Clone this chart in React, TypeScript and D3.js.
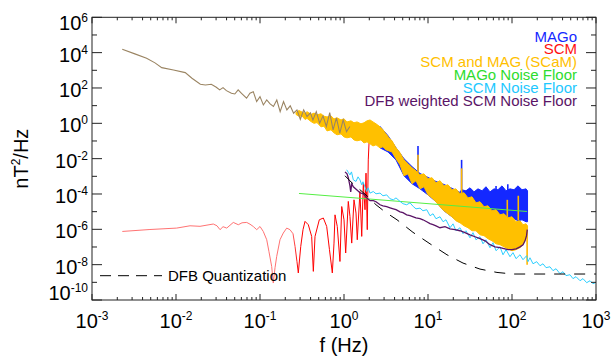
import React from "react";
import * as d3 from "d3";

// Every value below is in decades: [log10 f (Hz), log10 PSD (nT^2/Hz)]
// bands are [log10 f, log10 upper, log10 lower]

const xDecades = [-3, -2, -1, 0, 1, 2, 3];
const yDecades = [6, 4, 2, 0, -2, -4, -6, -8, -10];

const legendLabels = ["MAGo", "SCM", "SCM and MAG (SCaM)", "MAGo Noise Floor", "SCM Noise Floor", "DFB weighted SCM Noise Floor"];
const legendColors = ["#1428ff", "#ff1010", "#ffc000", "#2edc2e", "#1ec8ff", "#5a1466"];

// low frequency part, where MAGo and SCaM overlap
const overlapLine = [
  [-2.64, 4.19], [-2.49, 3.93], [-2.35, 3.68], [-2.25, 3.42], [-2.17, 3.15], [-2.03, 3.02], [-1.89, 2.87],
  [-1.81, 2.55], [-1.71, 2.21], [-1.65, 2.17], [-1.58, 2.21], [-1.52, 2.04], [-1.48, 1.89], [-1.44, 2.02],
  [-1.40, 1.85], [-1.34, 1.70], [-1.30, 1.66], [-1.26, 1.89], [-1.22, 1.70], [-1.16, 1.42], [-1.12, 1.70],
  [-1.08, 1.79], [-1.04, 1.23], [-1.00, 1.51], [-0.96, 1.04], [-0.92, 1.32], [-0.88, 1.10], [-0.84, 0.95],
  [-0.80, 1.32], [-0.76, 0.66], [-0.72, 1.23], [-0.68, 0.76], [-0.64, 0.99], [-0.60, 0.57], [-0.56, 0.76],
  [-0.52, 0.23], [-0.48, 0.76], [-0.44, 0.38], [-0.40, 0.59], [-0.37, 0.19], [-0.33, 0.66], [-0.29, 0.01],
  [-0.25, 0.42], [-0.21, -0.18], [-0.17, 0.61], [-0.13, -0.37], [-0.09, 0.31], [-0.05, -0.56], [-0.01, 0.19],
  [0.03, -0.47], [0.07, -0.18],
];

const scamBand = [
  [-0.571, 0.62, 0.50], [-0.536, 0.72, 0.40], [-0.500, 0.64, 0.42], [-0.464, 0.56, 0.22], [-0.440, 0.66, 0.28],
  [-0.393, 0.50, 0.10], [-0.357, 0.58, 0.00], [-0.321, 0.48, 0.04], [-0.274, 0.54, -0.20], [-0.238, 0.40, -0.16],
  [-0.202, 0.36, -0.43], [-0.155, 0.42, -0.37], [-0.119, 0.25, -0.54], [-0.083, 0.31, -0.65], [-0.036, 0.19, -0.60],
  [0.000, 0.25, -0.77], [0.036, 0.08, -0.82], [0.083, 0.14, -0.77], [0.119, 0.03, -0.94], [0.155, 0.08, -0.99],
  [0.202, -0.03, -0.94], [0.238, 0.03, -1.11], [0.274, 0.14, -1.05], [0.310, 0.19, -1.16], [0.345, 0.08, -1.28],
  [0.381, -0.03, -1.22], [0.429, -0.20, -1.39], [0.464, -0.37, -1.33], [0.500, -0.60, -1.50], [0.536, -0.82, -1.56],
  [0.571, -0.99, -1.62], [0.619, -1.39, -2.01], [0.667, -1.67, -2.35], [0.714, -2.07, -2.97],
  [0.762, -2.29, -2.86], [0.810, -2.52, -3.42], [0.857, -2.69, -3.25], [0.905, -2.92, -3.71], [0.952, -2.86, -3.59],
  [1.000, -3.14, -4.05], [1.048, -3.08, -4.22], [1.095, -3.37, -4.44], [1.143, -3.25, -4.72], [1.190, -3.54, -4.95],
  [1.238, -3.48, -5.12], [1.286, -3.76, -5.29], [1.333, -3.71, -5.52], [1.381, -3.99, -5.63], [1.429, -3.93, -5.80],
  [1.476, -4.22, -5.91], [1.524, -4.16, -6.08], [1.571, -4.50, -6.08], [1.619, -4.44, -6.31], [1.667, -4.72, -6.36],
  [1.714, -4.67, -6.53], [1.762, -4.95, -6.65], [1.810, -4.89, -6.82], [1.857, -5.18, -6.87], [1.905, -5.12, -6.99],
  [1.952, -5.35, -7.10], [2.000, -5.29, -7.21], [2.048, -5.57, -7.15], [2.095, -5.52, -7.04], [2.131, -5.74, -6.87],
  [2.167, -5.69, -6.48], [2.185, -5.80, -6.02],
];

const magoBand = [
  [0.429, -0.18, -1.39], [0.524, -0.70, -1.62], [0.619, -1.38, -2.07], [0.714, -2.00, -2.97], [0.810, -2.45, -3.42],
  [0.905, -2.84, -3.71], [1.000, -3.06, -4.05], [1.095, -3.29, -4.44], [1.190, -3.46, -4.95], [1.286, -3.68, -5.29],
  [1.381, -3.91, -5.63], [1.400, -3.76, -4.72], [1.452, -3.82, -4.84], [1.500, -3.65, -4.95], [1.548, -3.88, -4.89],
  [1.595, -3.71, -5.06], [1.643, -3.82, -5.01], [1.690, -3.59, -5.12], [1.738, -3.88, -5.18], [1.786, -3.71, -5.06],
  [1.833, -3.76, -5.29], [1.881, -3.54, -5.23], [1.929, -3.82, -5.40], [1.976, -3.71, -5.51], [2.024, -3.76, -5.40],
  [2.071, -3.54, -5.51], [2.119, -3.76, -5.46], [2.167, -3.71, -5.57], [2.185, -3.82, -5.57],
];

// narrow lines: [log10 f, from, to]
const magoSpikes = [[0.881, -2.8, -1.28], [1.40, -3.9, -2.07], [1.81, -3.8, -3.55], [1.95, -3.8, -3.45]];
const scamSpikes = [[0.881, -2.8, -1.78], [1.40, -4.0, -2.55], [1.944, -5.3, -4.33], [2.075, -5.5, -4.1], [2.18, -6.0, -8.0]];

const scmLine = [
  [-2.639, -6.12], [-2.310, -6.01], [-1.992, -5.93], [-1.833, -5.80], [-1.714, -5.83], [-1.556, -5.70], [-1.512, -5.80],
  [-1.476, -6.02], [-1.440, -5.85], [-1.396, -5.93], [-1.318, -5.61], [-1.258, -5.74], [-1.214, -5.63], [-1.158, -5.61],
  [-1.119, -5.71], [-1.080, -5.84], [-1.039, -6.02], [-1.000, -5.84], [-0.961, -6.12], [-0.920, -6.59], [-0.893, -7.27],
  [-0.861, -8.10], [-0.842, -9.04], [-0.821, -8.17], [-0.801, -7.53], [-0.762, -6.59], [-0.723, -6.21], [-0.682, -5.93],
  [-0.643, -6.02], [-0.607, -6.25], [-0.583, -6.97], [-0.560, -7.83], [-0.544, -8.47], [-0.515, -6.97], [-0.488, -6.02],
  [-0.464, -5.55], [-0.425, -5.74], [-0.385, -6.40], [-0.365, -8.38], [-0.345, -6.40], [-0.294, -5.46], [-0.246, -5.36],
  [-0.206, -5.84], [-0.173, -7.15], [-0.139, -8.47], [-0.119, -6.78], [-0.107, -5.18], [-0.080, -5.84], [-0.048, -7.82],
  [-0.027, -4.71], [0.000, -5.46], [0.020, -7.34], [0.051, -4.42], [0.071, -5.27], [0.092, -6.78], [0.119, -4.33],
  [0.143, -5.08], [0.158, -6.59], [0.190, -3.86], [0.211, -6.40], [0.230, -3.38], [0.250, -4.89], [0.262, -2.82],
  [0.277, -6.02], [0.289, -2.07], [0.298, -1.11], [0.310, 0.01],
];

const magoNoise = [[-0.536, -3.97], [2.179, -4.99]];

const scmNoise = [
  [0.032, -2.63], [0.054, -2.80], [0.071, -2.92], [0.089, -2.75], [0.111, -3.20], [0.143, -3.29], [0.167, -3.03],
  [0.190, -3.20], [0.211, -3.48], [0.226, -3.31], [0.270, -3.86], [0.286, -3.65], [0.310, -3.95], [0.349, -3.86],
  [0.381, -3.99], [0.429, -3.95], [0.464, -4.10], [0.508, -4.05], [0.548, -4.27], [0.587, -4.33], [0.619, -4.22],
  [0.667, -4.42], [0.702, -4.55], [0.746, -4.61], [0.786, -4.50], [0.825, -4.71], [0.857, -4.84], [0.905, -4.80],
  [0.940, -4.95], [0.985, -4.89], [1.024, -5.23], [1.060, -5.12], [1.095, -5.40], [1.143, -5.29], [1.179, -5.57],
  [1.214, -5.46], [1.262, -5.91], [1.298, -5.69], [1.333, -6.08], [1.381, -5.91], [1.417, -6.25], [1.452, -6.08],
  [1.500, -6.48], [1.536, -6.19], [1.571, -6.59], [1.619, -6.42], [1.655, -6.82], [1.690, -6.59], [1.738, -7.04],
  [1.774, -6.76], [1.810, -7.21], [1.857, -6.99], [1.893, -7.44], [1.929, -7.15], [1.976, -7.55], [2.012, -7.32],
  [2.048, -7.66], [2.095, -7.44], [2.131, -7.72], [2.175, -7.49], [2.190, -7.83], [2.214, -7.61], [2.250, -7.95],
  [2.294, -7.83], [2.333, -8.06], [2.369, -7.95], [2.405, -8.17], [2.452, -8.12], [2.488, -8.34], [2.524, -8.23],
  [2.571, -8.51], [2.607, -8.40], [2.643, -8.62], [2.690, -8.57], [2.726, -8.79], [2.762, -8.68], [2.810, -8.91],
  [2.845, -8.79], [2.889, -9.02], [2.929, -8.91], [2.964, -9.08], [3.000, -9.00],
];

const dfbNoise = [
  [0.012, -2.75], [0.036, -2.86], [0.051, -3.08], [0.071, -3.54], [0.080, -3.88], [0.092, -3.42], [0.111, -3.59],
  [0.151, -3.76], [0.190, -3.93], [0.230, -3.99], [0.270, -4.22], [0.310, -4.38], [0.349, -4.38], [0.381, -4.44],
  [0.429, -4.61], [0.464, -4.67], [0.508, -4.72], [0.548, -4.78], [0.587, -4.84], [0.619, -4.89], [0.667, -5.01],
  [0.702, -5.06], [0.746, -5.18], [0.786, -5.23], [0.825, -5.29], [0.857, -5.35], [0.905, -5.40], [0.940, -5.46],
  [0.985, -5.57], [1.024, -5.68], [1.060, -5.74], [1.095, -5.80], [1.143, -5.91], [1.202, -5.85], [1.262, -5.97],
  [1.321, -6.02], [1.381, -6.08], [1.440, -6.19], [1.500, -6.31], [1.560, -6.42], [1.619, -6.53], [1.679, -6.65],
  [1.738, -6.87], [1.798, -6.99], [1.857, -7.04], [1.917, -7.10], [1.952, -7.15], [2.000, -7.15], [2.048, -7.10],
  [2.095, -6.99], [2.131, -6.87], [2.155, -6.65], [2.173, -6.36], [2.182, -6.02],
];

const dfbQuant = [
  [0.012, -2.97], [0.095, -3.37], [0.190, -3.76], [0.286, -4.16], [0.381, -4.61], [0.488, -5.01], [0.631, -5.46],
  [0.821, -6.17], [1.024, -6.82], [1.226, -7.44], [1.417, -7.91], [1.619, -8.25], [1.821, -8.44], [2.012, -8.53],
  [3.000, -8.53],
];

const W = 611;
const H = 356;
const font = "'Liberation Sans', Arial, Helvetica, sans-serif";

const x = d3.scaleLog().domain([1e-3, 1e3]).range([92, 596]);
const y = d3.scaleLog().domain([1e-10, 1e6]).range([300, 17.3]);
const fx = (d: number) => x(Math.pow(10, d));
const fy = (d: number) => y(Math.pow(10, d));

const line = d3.line<number[]>().x(d => fx(d[0])).y(d => fy(d[1]));
const band = d3.area<number[]>().x(d => fx(d[0])).y0(d => fy(d[2])).y1(d => fy(d[1]));

export default function App() {
  const [x0, x1] = x.range();
  const [yb, yt] = y.range();

  const xMinor = x.ticks().filter(v => Math.abs(Math.log10(v) - Math.round(Math.log10(v))) > 1e-6);
  const yMinor = d3.range(-9, 6, 2);

  return (
    <svg width={W} height={H} style={{ position: "absolute", left: 0, top: 0, background: "#fff" }} fontFamily={font}>
      <defs>
        <linearGradient id="scmGrad" gradientUnits="userSpaceOnUse" x1={x0} x2={x1} y1={0} y2={0}>
          <stop offset={(fx(-0.62) - x0) / (x1 - x0)} stopColor="#ff7272" />
          <stop offset={(fx(-0.55) - x0) / (x1 - x0)} stopColor="#ff0000" />
        </linearGradient>
      </defs>

      {/* MAGo */}
      <path d={band(magoBand) || ""} fill="#1428ff" stroke="#1428ff" strokeWidth={1} />
      {magoSpikes.map((s, i) => (
        <line key={"ms" + i} x1={fx(s[0])} x2={fx(s[0])} y1={fy(s[1])} y2={fy(s[2])} stroke="#1428ff" strokeWidth={1.6} />
      ))}

      {/* SCM */}
      <path d={line(scmLine) || ""} fill="none" stroke="url(#scmGrad)" strokeWidth={1} />

      {/* SCaM */}
      <path d={band(scamBand) || ""} fill="#ffc000" stroke="#ffc000" strokeWidth={1} />
      {scamSpikes.map((s, i) => (
        <line key={"ss" + i} x1={fx(s[0])} x2={fx(s[0])} y1={fy(s[1])} y2={fy(s[2])} stroke="#ffb800" strokeWidth={1.6} />
      ))}
      <path d={line(overlapLine) || ""} fill="none" stroke="#9a8462" strokeWidth={1.1} />

      {/* noise floors */}
      <path d={line(magoNoise) || ""} fill="none" stroke="#55ee44" strokeWidth={1} />
      <path d={line(scmNoise) || ""} fill="none" stroke="#2ccfff" strokeWidth={1} />
      <path d={line(dfbNoise) || ""} fill="none" stroke="#5a1466" strokeWidth={1.3} />
      <path d={line(dfbQuant) || ""} fill="none" stroke="#000" strokeWidth={1} strokeDasharray="11,9" />

      {/* frame and ticks */}
      <rect x={x0} y={yt} width={x1 - x0} height={yb - yt} fill="none" stroke="#222" strokeWidth={1} />
      {xDecades.map(d => (
        <g key={"xt" + d} stroke="#222">
          <line x1={fx(d)} x2={fx(d)} y1={yb} y2={yb - 6} />
          <line x1={fx(d)} x2={fx(d)} y1={yt} y2={yt + 6} />
        </g>
      ))}
      {xMinor.map((v, i) => (
        <g key={"xm" + i} stroke="#222">
          <line x1={x(v)} x2={x(v)} y1={yb} y2={yb - 3} />
          <line x1={x(v)} x2={x(v)} y1={yt} y2={yt + 3} />
        </g>
      ))}
      {yDecades.map(d => (
        <g key={"yt" + d} stroke="#222">
          <line x1={x0} x2={x0 + 10} y1={fy(d)} y2={fy(d)} />
          <line x1={x1} x2={x1 - 10} y1={fy(d)} y2={fy(d)} />
        </g>
      ))}
      {yMinor.map(d => (
        <g key={"ym" + d} stroke="#222">
          <line x1={x0} x2={x0 + 5} y1={fy(d)} y2={fy(d)} />
          <line x1={x1} x2={x1 - 5} y1={fy(d)} y2={fy(d)} />
        </g>
      ))}

      {/* tick labels */}
      {xDecades.map(d => (
        <text key={"xl" + d} x={fx(d)} y={327.5} textAnchor="middle" fontSize={20} fill="#000">
          10<tspan dy={-8} fontSize={12}>{d}</tspan>
        </text>
      ))}
      {yDecades.map(d => (
        <text key={"yl" + d} x={88} y={Math.min(300, Math.max(30, fy(d) + 9))} textAnchor="end" fontSize={20} fill="#000">
          10<tspan dy={-8} fontSize={12}>{d}</tspan>
        </text>
      ))}

      {/* axis titles */}
      <text x={fx(0)} y={352} textAnchor="middle" fontSize={20} fill="#000">f (Hz)</text>
      <text transform={`translate(28,${(yb + yt) / 2}) rotate(-90)`} textAnchor="middle" fontSize={20} fill="#000">
        nT<tspan dy={-8} fontSize={12}>2</tspan><tspan dy={8}>/Hz</tspan>
      </text>

      {/* legend */}
      {legendLabels.map((l, i) => (
        <text key={l} x={577} y={41.5 + i * 12.9} textAnchor="end" fontSize={15} fill={legendColors[i]}>{l}</text>
      ))}
      <line x1={100} x2={162} y1={275.7} y2={275.7} stroke="#000" strokeWidth={1} strokeDasharray="11,7" />
      <text x={168} y={280.7} fontSize={15} fill="#000">DFB Quantization</text>
    </svg>
  );
}
